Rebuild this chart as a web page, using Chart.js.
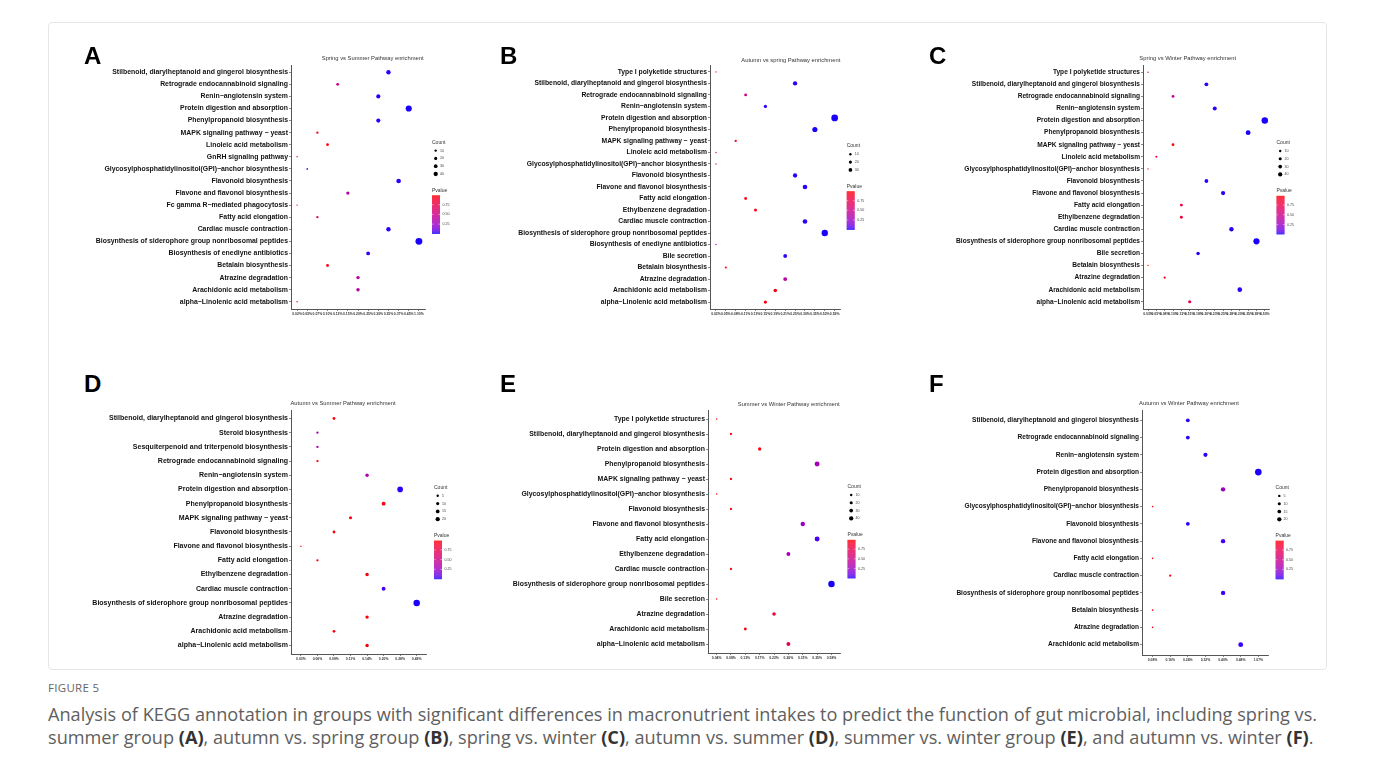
<!DOCTYPE html>
<html><head><meta charset="utf-8">
<script src="https://cdn.jsdelivr.net/npm/chart.js@4.4.1/dist/chart.umd.min.js"></script>
<style>
body{margin:0;background:#fff;width:1375px;height:771px;position:relative;overflow:hidden;font-family:'Liberation Sans',Arial,sans-serif}
.frame{position:absolute;left:48px;top:22px;width:1279px;height:648px;border:1px solid #e6e6e6;border-radius:4px;box-sizing:border-box}
canvas{position:absolute}
.letter{position:absolute;font:bold 24px/1 'Liberation Sans',Arial,sans-serif;color:#000;z-index:2}
.ptitle{position:absolute;font:5.8px/1 'Liberation Sans',Arial,sans-serif;color:#333;white-space:nowrap;transform:translate(-50%,-50%);z-index:2}
.figlabel{position:absolute;left:48px;top:681px;font:11.5px/14px 'Open Sans',sans-serif;color:#666;letter-spacing:0.3px}
.caption{position:absolute;left:48px;top:703px;width:1320px;font:18.15px/23px 'Open Sans',sans-serif;color:#5f5f5f;white-space:nowrap}
.caption b{color:#333;font-weight:700}
</style></head>
<body>
<div class="frame"></div>
<div id="root"></div>
<div class="figlabel">FIGURE 5</div>
<div class="caption">Analysis of KEGG annotation in groups with significant differences in macronutrient intakes to predict the function of gut microbial, including spring vs.<br>summer group <b>(A)</b>, autumn vs. spring group <b>(B)</b>, spring vs. winter <b>(C)</b>, autumn vs. summer <b>(D)</b>, summer vs. winter group <b>(E)</b>, and autumn vs. winter <b>(F)</b>.</div>
<script>
// ---------------- DATA ----------------
const STIL='Stilbenoid, diarylheptanoid and gingerol biosynthesis', RETRO='Retrograde endocannabinoid signaling', RENIN='Renin\u2212angiotensin system',
PROT='Protein digestion and absorption', PHEN='Phenylpropanoid biosynthesis', MAPK='MAPK signaling pathway \u2212 yeast', LINO='Linoleic acid metabolism',
GPI='Glycosylphosphatidylinositol(GPI)\u2212anchor biosynthesis', FLAVD='Flavonoid biosynthesis', FLAVN='Flavone and flavonol biosynthesis',
FATTY='Fatty acid elongation', CARD='Cardiac muscle contraction', SIDE='Biosynthesis of siderophore group nonribosomal peptides',
BETA='Betalain biosynthesis', ATRA='Atrazine degradation', ARACH='Arachidonic acid metabolism', ALPHA='alpha\u2212Linolenic acid metabolism',
TYPE1='Type I polyketide structures', ETHYL='Ethylbenzene degradation', BILE='Bile secretion', ENED='Biosynthesis of enediyne antibiotics';

// Panel A: Spring vs Summer
const A_title='Spring vs Summer Pathway enrichment';
const A_pathways=[STIL,RETRO,RENIN,PROT,PHEN,MAPK,LINO,'GnRH signaling pathway',GPI,FLAVD,FLAVN,'Fc gamma R\u2212mediated phagocytosis',FATTY,CARD,SIDE,ENED,BETA,ATRA,ARACH,ALPHA];
const A_xLabels=['0.02%','0.05%','0.07%','0.10%','0.12%','0.15%','0.20%','0.25%','0.30%','0.35%','0.37%','0.45%','1.10%'];
const A_ratio=['0.35%','0.12%','0.30%','0.45%','0.30%','0.07%','0.10%','0.02%','0.05%','0.37%','0.15%','0.02%','0.07%','0.35%','1.10%','0.25%','0.10%','0.20%','0.20%','0.02%'];
const A_count=[40,17,35,78,35,11,16,4,6,44,22,4,11,40,97,30,16,24,24,4];
const A_pvalue=[0.02,0.5,0.02,0.01,0.02,0.97,0.96,0.97,0.08,0.02,0.4,0.97,0.7,0.02,0.01,0.03,0.96,0.4,0.4,0.97];
const A_countBreaks=[10,20,30,40];

// Panel B: Autumn vs spring
const B_title='Autumn vs spring Pathway enrichment';
const B_pathways=[TYPE1,STIL,RETRO,RENIN,PROT,PHEN,MAPK,LINO,GPI,FLAVD,FLAVN,FATTY,ETHYL,CARD,SIDE,ENED,BILE,BETA,ATRA,ARACH,ALPHA];
const B_xLabels=['0.02%','0.05%','0.08%','0.11%','0.13%','0.15%','0.19%','0.21%','0.25%','0.30%','0.35%','0.52%','0.59%'];
const B_ratio=['0.02%','0.25%','0.11%','0.15%','0.59%','0.35%','0.08%','0.02%','0.02%','0.25%','0.30%','0.11%','0.13%','0.30%','0.52%','0.02%','0.21%','0.05%','0.21%','0.19%','0.15%'];
const B_count=[4,38,16,22,91,54,11,4,4,38,44,16,19,44,83,4,31,9,31,26,22];
const B_pvalue=[0.97,0.02,0.5,0.03,0.01,0.01,0.97,0.97,0.97,0.02,0.02,0.95,0.95,0.02,0.01,0.3,0.03,0.95,0.4,0.95,0.95];
const B_countBreaks=[10,20,30];

// Panel C: Spring vs Winter
const C_title='Spring vs Winter Pathway enrichment';
const C_pathways=[TYPE1,STIL,RETRO,RENIN,PROT,PHEN,MAPK,LINO,GPI,FLAVD,FLAVN,FATTY,ETHYL,CARD,SIDE,BILE,BETA,ATRA,ARACH,ALPHA];
const C_xLabels=['0.03%','0.05%','0.08%','0.10%','0.13%','0.15%','0.18%','0.20%','0.23%','0.25%','0.28%','0.30%','0.35%','0.38%','0.50%'];
const C_ratio=['0.03%','0.20%','0.10%','0.23%','0.50%','0.35%','0.10%','0.05%','0.03%','0.20%','0.25%','0.13%','0.13%','0.28%','0.38%','0.18%','0.03%','0.08%','0.30%','0.15%'];
const C_count=[4,30,16,33,86,48,16,9,4,30,36,18,18,40,78,25,4,11,44,21];
const C_pvalue=[0.97,0.02,0.5,0.02,0.01,0.01,0.97,0.78,0.97,0.02,0.02,0.8,0.8,0.02,0.01,0.02,0.97,0.95,0.02,0.72];
const C_countBreaks=[10,20,30,40];

// Panel D: Autumn vs Summer
const D_title='Autumn vs Summer Pathway enrichment';
const D_pathways=[STIL,'Steroid biosynthesis','Sesquiterpenoid and triterpenoid biosynthesis',RETRO,RENIN,PROT,PHEN,MAPK,FLAVD,FLAVN,FATTY,ETHYL,CARD,SIDE,ATRA,ARACH,ALPHA];
const D_xLabels=['0.03%','0.06%','0.09%','0.11%','0.14%','0.20%','0.28%','0.49%'];
const D_ratio=['0.09%','0.06%','0.06%','0.06%','0.14%','0.28%','0.20%','0.11%','0.09%','0.03%','0.06%','0.14%','0.20%','0.49%','0.14%','0.09%','0.14%'];
const D_count=[16,11,11,11,24,65,31,19,16,4,11,24,31,86,24,16,24];
const D_pvalue=[0.97,0.3,0.3,0.97,0.35,0.02,0.97,0.97,0.97,0.97,0.97,0.97,0.05,0.01,0.97,0.97,0.97];
const D_countBreaks=[5,10,15,20];

// Panel E: Summer vs Winter
const E_title='Summer vs Winter Pathway enrichment';
const E_pathways=[TYPE1,STIL,PROT,PHEN,MAPK,GPI,FLAVD,FLAVN,FATTY,ETHYL,CARD,SIDE,BILE,ATRA,ARACH,ALPHA];
const E_xLabels=['0.04%','0.08%','0.13%','0.17%','0.22%','0.26%','0.31%','0.35%','0.58%'];
const E_ratio=['0.04%','0.08%','0.17%','0.35%','0.08%','0.04%','0.08%','0.31%','0.35%','0.26%','0.08%','0.58%','0.04%','0.22%','0.13%','0.26%'];
const E_count=[4,11,22,50,11,4,11,40,50,31,11,86,4,26,16,31];
const E_pvalue=[0.97,0.97,0.97,0.3,0.97,0.97,0.97,0.25,0.05,0.3,0.97,0.01,0.97,0.82,0.97,0.72];
const E_countBreaks=[10,20,30,40];

// Panel F: Autumn vs Winter
const F_title='Autumn vs Winter Pathway enrichment';
const F_pathways=[STIL,RETRO,RENIN,PROT,PHEN,GPI,FLAVD,FLAVN,FATTY,CARD,SIDE,BETA,ATRA,ARACH];
const F_xLabels=['0.08%','0.16%','0.24%','0.32%','0.40%','0.48%','1.07%'];
const F_ratio=['0.24%','0.24%','0.32%','1.07%','0.40%','0.08%','0.24%','0.40%','0.08%','0.16%','0.40%','0.08%','0.08%','0.48%'];
const F_count=[30,30,35,91,40,5,30,40,5,10,40,5,5,48];
const F_pvalue=[0.02,0.02,0.02,0.01,0.25,0.97,0.02,0.05,0.97,0.97,0.03,0.97,0.97,0.03];
const F_countBreaks=[5,10,15,20];

const pvalueBreaks=[0.25,0.50,0.75];
const pvalueRange=[0.003,0.99];

// ---------------- LAYOUT / STYLE ----------------
const FAMILY="'Liberation Sans', Arial, sans-serif";
const panels=[
 {letter:'A',title:A_title,pathways:A_pathways,xLabels:A_xLabels,ratio:A_ratio,count:A_count,pvalue:A_pvalue,breaks:A_countBreaks,
  area:{l:291,r:425,t:65,b:309},titlePos:[372.7,59.3],letterPos:[84,44],leg:{x:432,y:142.3},ysize:6.9},
 {letter:'B',title:B_title,pathways:B_pathways,xLabels:B_xLabels,ratio:B_ratio,count:B_count,pvalue:B_pvalue,breaks:B_countBreaks,
  area:{l:710,r:840.6,t:65,b:309},titlePos:[790.8,60.7],letterPos:[500,44],leg:{x:846.7,y:146},ysize:6.78},
 {letter:'C',title:C_title,pathways:C_pathways,xLabels:C_xLabels,ratio:C_ratio,count:C_count,pvalue:C_pvalue,breaks:C_countBreaks,
  area:{l:1142.5,r:1269.3,t:65,b:309},titlePos:[1187.7,59.3],letterPos:[929,44],leg:{x:1276,y:142.7},ysize:6.6},
 {letter:'D',title:D_title,pathways:D_pathways,xLabels:D_xLabels,ratio:D_ratio,count:D_count,pvalue:D_pvalue,breaks:D_countBreaks,
  area:{l:291,r:426.6,t:409.8,b:654},titlePos:[343,403.7],letterPos:[84,372],leg:{x:434,y:487.3},ysize:7.03},
 {letter:'E',title:E_title,pathways:E_pathways,xLabels:E_xLabels,ratio:E_ratio,count:E_count,pvalue:E_pvalue,breaks:E_countBreaks,
  area:{l:708.2,r:840.3,t:410,b:653},titlePos:[788.7,405.3],letterPos:[500,372],leg:{x:847.7,y:486.7},ysize:6.9},
 {letter:'F',title:F_title,pathways:F_pathways,xLabels:F_xLabels,ratio:F_ratio,count:F_count,pvalue:F_pvalue,breaks:F_countBreaks,
  area:{l:1142.4,r:1269.3,t:409.7,b:654.3},titlePos:[1189,404],letterPos:[929,372],leg:{x:1276,y:487.3},ysize:6.56}
];

// colour: Lab interpolation blue -> red (like ggplot gradient)
function s2l(c){c/=255;return c<=0.04045?c/12.92:Math.pow((c+0.055)/1.055,2.4);}
function l2s(c){c=c<=0.0031308?12.92*c:1.055*Math.pow(c,1/2.4)-0.055;return Math.round(Math.max(0,Math.min(1,c))*255);}
function rgb2lab(rgb){const r=s2l(rgb[0]),g=s2l(rgb[1]),b=s2l(rgb[2]);
 const X=(0.4124*r+0.3576*g+0.1805*b)/0.95047,Y=0.2126*r+0.7152*g+0.0722*b,Z=(0.0193*r+0.1192*g+0.9505*b)/1.08883;
 const f=t=>t>0.008856?Math.cbrt(t):(7.787*t+16/116);return [116*f(Y)-16,500*(f(X)-f(Y)),200*(f(Y)-f(Z))];}
function lab2rgb(lab){const fy=(lab[0]+16)/116,fx=fy+lab[1]/500,fz=fy-lab[2]/200;const fi=t=>t>0.206893?t*t*t:(t-16/116)/7.787;
 const X=fi(fx)*0.95047,Y=fi(fy),Z=fi(fz)*1.08883;
 return [l2s(3.2406*X-1.5372*Y-0.4986*Z),l2s(-0.9689*X+1.8758*Y+0.0415*Z),l2s(0.0557*X-0.2040*Y+1.0570*Z)];}
const LOW=rgb2lab([0,0,255]),HIGH=rgb2lab([255,0,0]);
function pcolor(p){let t=(p-pvalueRange[0])/(pvalueRange[1]-pvalueRange[0]);t=Math.max(0,Math.min(1,t));
 const c=lab2rgb([0,1,2].map(k=>LOW[k]+(HIGH[k]-LOW[k])*t));return `rgb(${c[0]},${c[1]},${c[2]})`;}
function rad(count){return 0.35*Math.sqrt(count);}
const legendDotR=[1.2,1.55,1.85,2.15];

const YW=215, PADT=6, XH=12;
const root=document.getElementById('root');

panels.forEach(P=>{
 const cl=P.area.l-YW, ct=P.area.t-PADT;
 const W=Math.round(P.leg.x+24-cl), H=Math.round(P.area.b-ct+XH);
 const padR=W-(P.area.r-cl);
 const cv=document.createElement('canvas');
 cv.width=W;cv.height=H;cv.style.left=cl+'px';cv.style.top=ct+'px';cv.style.width=W+'px';cv.style.height=H+'px';
 root.appendChild(cv);
 const lt=document.createElement('div');lt.className='letter';lt.textContent=P.letter;lt.style.left=P.letterPos[0]+'px';lt.style.top=P.letterPos[1]+'px';root.appendChild(lt);
 const tt=document.createElement('div');tt.className='ptitle';tt.textContent=P.title;tt.style.left=P.titlePos[0]+'px';tt.style.top=P.titlePos[1]+'px';root.appendChild(tt);

 const nx=P.xLabels.length, ny=P.pathways.length;
 const pts=P.pathways.map((name,i)=>({x:P.xLabels.indexOf(P.ratio[i]),y:i,count:P.count[i],p:P.pvalue[i]}));
 const legendPlugin={id:'leg'+P.letter,afterDraw(chart){
   const c=chart.ctx;c.save();
   const ox=P.leg.x-cl, oy=P.leg.y-ct;
   c.fillStyle='#333';c.font="5px "+FAMILY;c.textBaseline='middle';c.textAlign='left';
   c.fillText('Count',ox,oy);
   c.font="3.6px "+FAMILY;
   let y=oy+8.3;
   P.breaks.forEach((b,i)=>{c.fillStyle='#000';c.beginPath();c.arc(ox+3.7,y,legendDotR[i],0,Math.PI*2);c.fill();
     c.fillStyle='#444';c.fillText(String(b),ox+8,y);y+=7.8;});
   const pty=y-7.8+16.7;
   c.font="5px "+FAMILY;c.fillStyle='#333';c.fillText('Pvalue',ox,pty);
   const bt=pty+4.7,bh=38.3,bw=8;
   for(let k=0;k<bh;k+=0.5){const v=pvalueRange[1]-(k/bh)*(pvalueRange[1]-pvalueRange[0]);c.fillStyle=pcolor(v);c.fillRect(ox,bt+k,bw,0.6);}
   c.font="3.6px "+FAMILY;
   pvalueBreaks.forEach(v=>{const yy=bt+bh-(v-pvalueRange[0])/(pvalueRange[1]-pvalueRange[0])*bh;
     c.strokeStyle='rgba(255,255,255,0.9)';c.lineWidth=0.5;c.beginPath();c.moveTo(ox,yy);c.lineTo(ox+1.6,yy);c.moveTo(ox+bw-1.6,yy);c.lineTo(ox+bw,yy);c.stroke();
     c.fillStyle='#444';c.fillText(v.toFixed(2),ox+bw+2.5,yy);});
   c.restore();
 }};
 new Chart(cv,{type:'scatter',
  data:{datasets:[{data:pts,pointRadius:ctx=>rad(ctx.raw.count),pointHoverRadius:ctx=>rad(ctx.raw.count),
    backgroundColor:ctx=>pcolor(ctx.raw.p),borderWidth:0,pointBorderWidth:0}]},
  options:{responsive:false,animation:false,events:[],
   layout:{padding:{left:0,top:PADT,right:padR,bottom:0}},
   plugins:{legend:{display:false},tooltip:{enabled:false},title:{display:false}},
   scales:{
    x:{type:'linear',min:-0.6,max:nx-0.4,
      afterBuildTicks:s=>{s.ticks=P.xLabels.map((_,i)=>({value:i}));},
      afterFit:s=>{s.height=XH;},
      ticks:{callback:v=>P.xLabels[v],font:{size:3.4,family:FAMILY,weight:'bold'},color:'#333',padding:1.5,maxRotation:0,minRotation:0,autoSkip:false},
      grid:{drawOnChartArea:false,drawTicks:true,tickLength:2,color:'#555',lineWidth:0.7},
      border:{display:true,color:'#555',width:1}},
    y:{type:'linear',reverse:true,min:-0.6,max:ny-0.4,
      afterBuildTicks:s=>{s.ticks=P.pathways.map((_,i)=>({value:i}));},
      afterFit:s=>{s.width=YW;},
      ticks:{callback:v=>P.pathways[v],font:{size:P.ysize,family:FAMILY,weight:'bold'},color:'#111',padding:1,autoSkip:false},
      grid:{drawOnChartArea:false,drawTicks:true,tickLength:2,color:'#555',lineWidth:0.7},
      border:{display:true,color:'#555',width:1}}
   }},
  plugins:[legendPlugin]});
});
</script>
</body></html>
